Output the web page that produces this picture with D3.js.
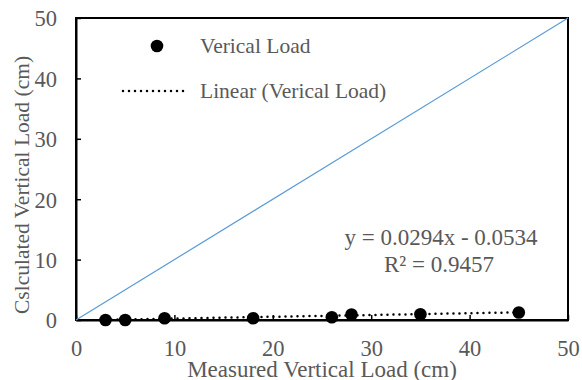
<!DOCTYPE html>
<html><head><meta charset="utf-8">
<script src="https://cdn.jsdelivr.net/npm/d3@7"></script>
<style>body{margin:0;background:#fff}text{font-family:"Liberation Serif","Times New Roman",serif;fill:#595959}</style>
</head><body><svg id="c" width="582" height="380"></svg>
<script>
const measured = [3, 5, 9, 18, 26, 28, 35, 45];
const calculated = [0.0, 0.0, 0.3, 0.3, 0.45, 0.9, 0.95, 1.25];
const xTicks = [0, 10, 20, 30, 40, 50];
const yTicks = [0, 10, 20, 30, 40, 50];
const slope = 0.0294, intercept = -0.0534, r2 = 0.9457;
const seriesName = "Verical Load";

const svg = d3.select("#c");
const m = {l:76, t:18, r:568, b:320};
const x = d3.scaleLinear().domain([0,50]).range([m.l, m.r]);
const y = d3.scaleLinear().domain([0,50]).range([m.b, m.t]);

// frame
svg.append("rect").attr("x",m.l).attr("y",m.t).attr("width",m.r-m.l).attr("height",m.b-m.t)
  .attr("fill","none").attr("stroke","#000").attr("stroke-width",2);

// axes with inward ticks
const xa = svg.append("g").attr("transform",`translate(0,${m.b})`)
  .call(d3.axisBottom(x).tickValues(xTicks).tickSizeInner(-5).tickSizeOuter(0).tickPadding(20));
const ya = svg.append("g").attr("transform",`translate(${m.l},0)`)
  .call(d3.axisLeft(y).tickValues(yTicks).tickSizeInner(-5).tickSizeOuter(0).tickPadding(19));
[xa,ya].forEach(g=>{
  g.select(".domain").attr("stroke","#000").attr("stroke-width",2);
  g.selectAll(".tick line").attr("stroke","#000").attr("stroke-width",1.5);
  g.selectAll(".tick text").style("font-size","22.5px").attr("fill","#595959")
   .style("font-family","Liberation Serif");
});
xa.selectAll(".tick text").attr("dy","0.71em");
ya.selectAll(".tick text").attr("dy","0.35em");

// 1:1 line
svg.append("line").attr("x1",x(0)).attr("y1",y(0)).attr("x2",x(50)).attr("y2",y(50))
  .attr("stroke","#5b9bd5").attr("stroke-width",1.2);

// trendline
const xmin = d3.min(measured), xmax = d3.max(measured);
svg.append("line").attr("x1",x(xmin)).attr("y1",y(slope*xmin+intercept))
  .attr("x2",x(xmax)).attr("y2",y(slope*xmax+intercept))
  .attr("stroke","#000").attr("stroke-width",2.5).attr("stroke-dasharray","0 6")
  .attr("stroke-linecap","round");

// points
svg.append("g").selectAll("circle").data(measured).join("circle")
  .attr("cx",(d)=>x(d)).attr("cy",(d,i)=>y(calculated[i])).attr("r",6.3).attr("fill","#000");

// legend
svg.append("circle").attr("cx",157).attr("cy",46).attr("r",6.3).attr("fill","#000");
svg.append("text").attr("x",200).attr("y",53).style("font-size","21.5px").text(seriesName);
svg.append("line").attr("x1",123).attr("y1",91).attr("x2",189).attr("y2",91)
  .attr("stroke","#000").attr("stroke-width",2.5).attr("stroke-dasharray","0 6").attr("stroke-linecap","round");
svg.append("text").attr("x",200).attr("y",98).style("font-size","21.5px").text(`Linear (${seriesName})`);

// equation
svg.append("text").attr("x",441).attr("y",245).attr("text-anchor","middle").style("font-size","23px")
  .text(`y = ${slope}x - ${Math.abs(intercept)}`);
svg.append("text").attr("x",439).attr("y",272).attr("text-anchor","middle").style("font-size","23px")
  .text(`R² = ${r2}`);

// axis titles
svg.append("text").attr("x",322).attr("y",377).attr("text-anchor","middle").style("font-size","23px")
  .text("Measured Vertical Load (cm)");
svg.append("text").attr("transform",`translate(29,185) rotate(-90)`).attr("text-anchor","middle")
  .style("font-size","21.5px").text("Cslculated Vertical Load (cm)");
</script></body></html>
